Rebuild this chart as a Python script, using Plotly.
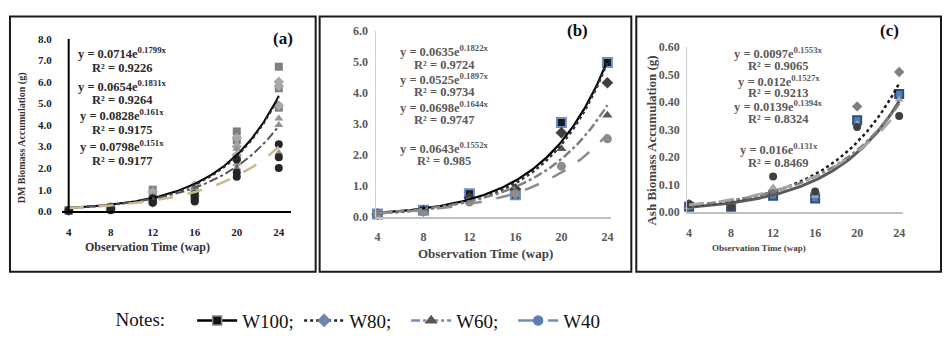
import plotly.graph_objects as go
import numpy as np

W, H = 944, 341
weeks = [4, 8, 12, 16, 20, 24]
series = ["W100", "W80", "W60", "W40"]
legend_names = ["W100;", "W80;", "W60;", "W40"]

# Panel (a): DM biomass accumulation (g), three replicates per week
dm_W100 = [[0.03, 0.05, 0.02], [0.10, 0.20, 0.15], [1.00, 0.80, 0.50], [1.00, 0.80, 0.60], [3.70, 3.30, 2.50], [6.70, 5.70, 4.80]]
dm_W80 = [[0.02, 0.04, 0.06], [0.10, 0.20, 0.12], [0.90, 0.60, 0.40], [1.20, 0.90, 0.70], [3.40, 3.00, 2.60], [6.00, 5.80, 4.90]]
dm_W60 = [[0.02, 0.03, 0.05], [0.08, 0.15, 0.12], [0.70, 0.50, 0.40], [1.00, 0.80, 0.60], [2.90, 2.20, 2.00], [4.30, 4.00, 2.70]]
dm_W40 = [[0.02, 0.03, 0.04], [0.05, 0.10, 0.15], [0.60, 0.50, 0.40], [0.80, 0.60, 0.45], [2.40, 1.80, 1.60], [3.10, 2.50, 2.00]]
dm_coef_a = ["0.0714", "0.0654", "0.0828", "0.0798"]
dm_coef_b = ["0.1799", "0.1831", "0.161", "0.151"]
dm_r2 = ["0.9226", "0.9264", "0.9175", "0.9177"]

# Panel (b): mean biomass
b_W100 = [0.10, 0.22, 0.75, 0.72, 3.05, 4.98]
b_W80 = [0.09, 0.20, 0.62, 0.90, 2.72, 4.33]
b_W60 = [0.08, 0.18, 0.52, 0.80, 2.20, 3.28]
b_W40 = [0.10, 0.17, 0.48, 0.75, 1.64, 2.52]
b_coef_a = ["0.0635", "0.0525", "0.0698", "0.0643"]
b_coef_b = ["0.1822", "0.1897", "0.1644", "0.1552"]
b_r2 = ["0.9724", "0.9734", "0.9747", "0.985"]

# Panel (c): Ash biomass accumulation (g)
c_W100 = [0.020, 0.020, 0.060, 0.050, 0.335, 0.430]
c_W80 = [0.030, 0.030, 0.080, 0.070, 0.385, 0.510]
c_W60 = [0.020, 0.025, 0.090, 0.060, 0.320, 0.410]
c_W40 = [0.030, 0.020, 0.130, 0.075, 0.310, 0.350]
c_coef_a = ["0.0097", "0.012", "0.0139", "0.016"]
c_coef_b = ["0.1553", "0.1527", "0.1394", "0.131"]
c_r2 = ["0.9065", "0.9213", "0.8324", "0.8469"]

y_ticks_a = [0, 1, 2, 3, 4, 5, 6, 7, 8]
y_ticks_b = [0, 1, 2, 3, 4, 5, 6]
y_ticks_c = [0, 0.1, 0.2, 0.3, 0.4, 0.5, 0.6]

SERIF = "Liberation Serif, Times New Roman, serif"
symbols = ["square", "diamond", "triangle-up", "circle"]
dashes = ["solid", "dot", "dashdot", "longdash"]


def px(x):
    return x / W


def py(y):
    return 1 - y / H


fig = go.Figure()

panels = [
    dict(xa="x", ya="y", data=[dm_W100, dm_W80, dm_W60, dm_W40], rep=True,
         ca=dm_coef_a, cb=dm_coef_b, r2=dm_r2,
         lcol=["#000000", "#2b2b2b", "#555555", "#cbb88f"], lw=[2, 2, 2, 2.5],
         mcol=["#7f7f7f", "#a8a8a8", "#939393", "#262626"], mline=[None, None, None, None], ms=8),
    dict(xa="x2", ya="y2", data=[b_W100, b_W80, b_W60, b_W40], rep=False,
         ca=b_coef_a, cb=b_coef_b, r2=b_r2,
         lcol=["#000000", "#333333", "#7f7f7f", "#8c8c8c"], lw=[2.2, 2.5, 2.5, 2.5],
         mcol=["#1a1a1a", "#404040", "#595959", "#8c8c8c"], mline=["#6b8fc7", None, None, None], ms=9),
    dict(xa="x3", ya="y3", data=[c_W100, c_W80, c_W60, c_W40], rep=False,
         ca=c_coef_a, cb=c_coef_b, r2=c_r2,
         lcol=["#5a5a5a", "#1a1a1a", "#808080", "#a6a6a6"], lw=[3, 2.5, 2.5, 2.5],
         mcol=["#4f81bd", "#7f7f7f", "#a6a6a6", "#404040"], mline=["#2c4f80", None, None, None], ms=8),
]

xfit = np.linspace(weeks[0], weeks[-1], 120)
for p in panels:
    for i, s in enumerate(series):
        d = p["data"][i]
        if p["rep"]:
            xs = [w for w, reps in zip(weeks, d) for _ in reps]
            ys = [v for reps in d for v in reps]
        else:
            xs, ys = weeks, d
        marker = dict(symbol=symbols[i], size=p["ms"], color=p["mcol"][i])
        if p["mline"][i]:
            marker["line"] = dict(color=p["mline"][i], width=2)
        fig.add_trace(go.Scatter(x=xs, y=ys, mode="markers", marker=marker,
                                 xaxis=p["xa"], yaxis=p["ya"], showlegend=False,
                                 cliponaxis=False, hoverinfo="skip"))
    for i, s in enumerate(series):
        a = float(p["ca"][i]); b = float(p["cb"][i])
        fig.add_trace(go.Scatter(x=xfit, y=a * np.exp(b * xfit), mode="lines",
                                 line=dict(color=p["lcol"][i], width=p["lw"][i], dash=dashes[i]),
                                 xaxis=p["xa"], yaxis=p["ya"], showlegend=False,
                                 cliponaxis=False, hoverinfo="skip"))

# legend-only entries
leg_line = ["#000000", "#222222", "#6f8db5", "#6f8db5"]
leg_marker = ["#111111", "#6d87aa", "#5a5550", "#5b7fb0"]
leg_mline = ["#888888", "#6d87aa", "#5a5550", "#5b7fb0"]
for i, n in enumerate(legend_names):
    fig.add_trace(go.Scatter(x=[None], y=[None], mode="lines+markers", name=n,
                             line=dict(color=leg_line[i], width=2.5, dash=dashes[i]),
                             marker=dict(symbol=symbols[i], size=9, color=leg_marker[i],
                                         line=dict(color=leg_mline[i], width=1.5)),
                             xaxis="x", yaxis="y", showlegend=True))

tickfont_a = dict(family=SERIF, size=11, color="#222222")
tickfont_g = dict(family=SERIF, size=12, color="#595959")

fig.update_layout(
    width=W, height=H, margin=dict(l=0, r=0, t=0, b=0),
    paper_bgcolor="white", plot_bgcolor="white",
    font=dict(family=SERIF),
    xaxis=dict(domain=[px(60), px(290)], range=[3.34, 25.14], tickvals=weeks,
               ticktext=[f"<b>{w}</b>" for w in weeks], tickfont=tickfont_a,
               showline=True, linecolor="#000000", linewidth=2, showgrid=False,
               zeroline=False, ticks="", ticklabelstandoff=10, anchor="y"),
    yaxis=dict(domain=[py(213), py(33)], range=[0, 8], tickvals=y_ticks_a,
               ticktext=[f"<b>{v:.1f}</b>" for v in y_ticks_a], tickfont=tickfont_a,
               showline=False, showgrid=False, zeroline=False, ticks="",
               ticklabelstandoff=9, anchor="x"),
    xaxis2=dict(domain=[px(376), px(612)], range=[3.91, 24.35], tickvals=weeks,
                ticktext=[f"<b>{w}</b>" for w in weeks], tickfont=tickfont_g,
                showline=True, linecolor="#bfbfbf", linewidth=2, showgrid=False,
                zeroline=False, ticks="", ticklabelstandoff=8, anchor="y2"),
    yaxis2=dict(domain=[py(219), py(25)], range=[0, 6], tickvals=y_ticks_b,
                ticktext=[f"<b>{v:.1f}</b>" for v in y_ticks_b], tickfont=tickfont_g,
                showline=True, linecolor="#d0d0d0", linewidth=1, showgrid=False,
                zeroline=False, ticks="", ticklabelstandoff=5, anchor="x2"),
    xaxis3=dict(domain=[px(688), px(905)], range=[3.81, 24.38], tickvals=weeks,
                ticktext=[f"<b>{w}</b>" for w in weeks], tickfont=tickfont_g,
                showline=True, linecolor="#bfbfbf", linewidth=2, showgrid=False,
                zeroline=False, ticks="", ticklabelstandoff=8, anchor="y3"),
    yaxis3=dict(domain=[py(214), py(42)], range=[0, 0.6], tickvals=y_ticks_c,
                ticktext=[f"<b>{v:.2f}</b>" for v in y_ticks_c], tickfont=tickfont_g,
                showline=True, linecolor="#d0d0d0", linewidth=1, showgrid=False,
                zeroline=False, ticks="", ticklabelstandoff=4, anchor="x3"),
    legend=dict(orientation="h", x=px(112), y=py(327), xanchor="left", yanchor="middle",
                font=dict(family=SERIF, size=19, color="#111111"),
                title=dict(text="Notes:    ", side="left", font=dict(family=SERIF, size=19, color="#111111")),
                entrywidth=52, entrywidthmode="pixels",
                itemwidth=40, tracegroupgap=0, bgcolor="rgba(0,0,0,0)"),
    showlegend=True,
)

shapes = [
    dict(type="rect", xref="paper", yref="paper", x0=px(8), x1=px(315), y0=py(276), y1=py(10),
         line=dict(color="#1a1a1a", width=2)),
    dict(type="rect", xref="paper", yref="paper", x0=px(319), x1=px(632), y0=py(276), y1=py(10),
         line=dict(color="#1a1a1a", width=2)),
    dict(type="rect", xref="paper", yref="paper", x0=px(637), x1=px(943), y0=py(276), y1=py(10),
         line=dict(color="#1a1a1a", width=2)),
    dict(type="line", xref="x", yref="y", x0=4, x1=4, y0=0, y1=8,
         line=dict(color="#000000", width=2)),
]
fig.update_layout(shapes=shapes)

ann = []


def text(x, y, t, size, color, angle=0, bold=True):
    ann.append(dict(xref="paper", yref="paper", x=px(x), y=py(y), text=(f"<b>{t}</b>" if bold else t),
                    showarrow=False, xanchor="center", yanchor="middle", textangle=angle,
                    font=dict(family=SERIF, size=size, color=color)))


# panel labels
text(282, 33, "(a)", 17, "#111111")
text(578, 25, "(b)", 17, "#111111")
text(891, 25, "(c)", 17, "#111111")

# axis titles
text(146, 250, "Observation Time (wap)", 12, "#333333")
text(486, 257, "Observation Time (wap)", 13, "#444444")
text(760, 251, "Observation Time (wap)", 9, "#444444")
text(21, 136, "DM Biomass Accumulation (g)", 10, "#333333", angle=-90)
text(652, 139, "Ash Biomass Accumulation (g)", 13, "#444444", angle=-90)

# equations
eq_sets = [
    (dm_coef_a, dm_coef_b, dm_r2, 121, [48, 64, 82, 97, 113, 128, 145, 161], "#2a2a2a"),
    (b_coef_a, b_coef_b, b_r2, 444, [46, 60, 75, 89, 104, 118, 147, 161], "#5a5a5a"),
    (c_coef_a, c_coef_b, c_r2, 780, [48, 62, 77, 90, 103, 117, 148, 163], "#5a5a5a"),
]
for ca, cb, r2, cx, ys, col in eq_sets:
    for i in range(4):
        text(cx, ys[2 * i], f"y = {ca[i]}e<sup>{cb[i]}x</sup>", 12.5, col)
        text(cx, ys[2 * i + 1], f"R² = {r2[i]}", 12.5, col)

fig.update_layout(annotations=ann)
fig.write_html("out.html")
